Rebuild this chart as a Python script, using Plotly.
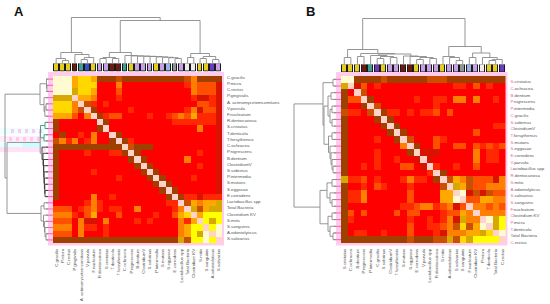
import plotly.graph_objects as go

W, H = 550, 304
FONT = "Liberation Sans"

labels_a = ["C.gracilis","P.micra","C.rectus","P.gingivalis","A. actinomycetemcomitans","V.parvula","F.nucleatum",
            "R.dentocariosa","S.cristatus","T.denticola","T.forsythensis","C.ochracea","P.nigrescens","B.dentium",
            "ClostridiumV","S.sobrinus","P.intermedia","S.mutans","S.eggasae","E.corrodens","Lactobacillus spp",
            "Total Bacteria","Clostridium KV","S.mitis","S.sanguinis","A.odontolyticus","S.salivarius"]
labels_b = ["S.cristatus","C.ochracea","B.dentium","P.nigrescens","P.intermedia","C.gracilis","S.sobrinus",
            "ClostridiumV","T.forsythensis","S.mutans","S.eggasae","E.corrodens","V.parvula","Lactobacillus spp",
            "R.dentocariosa","S.mitis","A.odontolyticus","S.salivarius","S.sanguinis","F.nucleatum","Clostridium KV",
            "P.micra","T.denticola","Total Bacteria","C.rectus"]

# correlation class per cell: 0 brown, 1 red ... 9 pale, 10 diagonal, 11 dark red, 12 burnt orange
matrix_a = [
 [9,9,9,5,7,7,5,0,0,0,12,0,0,0,0,0,0,0,0,0,0,12,4,0,0,0,0],
 [9,9,9,5,7,7,7,1,1,1,4,1,1,1,1,1,1,1,1,1,1,2,4,3,3,3,11],
 [9,9,9,6,7,7,5,1,1,1,3,1,1,1,1,1,1,1,1,1,1,1,4,3,3,3,11],
 [6,6,6,10,5,5,4,1,1,1,2,1,1,1,1,1,1,1,1,1,1,1,2,11,11,2,11],
 [7,7,7,4,10,12,2,1,2,1,1,1,1,1,1,1,1,1,1,1,1,1,1,3,3,2,11],
 [7,7,7,4,12,10,0,1,1,1,1,1,2,1,1,1,1,1,1,1,1,2,4,11,3,3,11],
 [5,5,5,3,1,4,10,0,2,3,3,1,1,1,1,2,1,1,2,3,4,3,5,2,2,2,11],
 [0,1,1,1,1,1,1,10,0,1,1,1,1,1,1,1,1,1,1,2,2,2,2,2,2,2,11],
 [0,1,1,1,1,1,1,0,10,1,1,1,1,1,1,1,1,1,1,1,1,1,1,4,1,1,11],
 [1,0,1,1,2,1,4,1,1,10,0,1,1,1,1,1,1,1,1,1,1,1,1,1,1,1,11],
 [12,4,2,4,1,2,4,1,1,0,10,0,2,1,1,1,1,1,1,1,1,1,1,1,1,1,11],
 [0,0,0,0,0,0,0,0,0,0,0,10,12,0,0,0,1,1,1,1,1,1,1,1,1,1,11],
 [0,1,1,1,1,2,1,1,1,2,2,0,10,0,1,1,1,1,1,1,1,1,1,2,1,1,11],
 [0,1,1,1,1,1,1,1,1,1,1,1,0,10,0,1,1,1,1,1,1,4,1,1,1,1,11],
 [0,1,1,1,1,1,1,1,1,1,1,1,1,0,10,0,1,1,1,1,1,1,1,2,1,1,11],
 [0,1,1,1,1,1,2,1,1,1,1,1,1,1,0,10,0,1,1,1,1,1,1,1,1,1,11],
 [0,1,1,1,1,1,1,1,1,1,2,1,1,1,1,0,10,0,1,1,1,1,2,1,1,1,11],
 [0,1,1,1,1,1,1,1,1,1,1,1,1,1,1,1,0,10,0,1,1,1,1,1,1,1,11],
 [0,1,1,1,1,1,1,1,1,1,1,1,1,1,1,1,1,0,10,0,1,1,1,1,1,1,11],
 [0,1,1,1,1,1,4,1,1,2,1,1,1,1,1,1,1,1,0,10,0,2,2,11,2,2,2],
 [1,1,1,1,1,2,4,2,1,1,1,1,1,1,1,1,1,1,2,2,10,12,5,4,5,5,6],
 [3,3,3,1,2,3,4,2,1,2,2,1,1,4,1,1,1,1,1,2,4,10,6,12,5,6,6],
 [4,4,4,2,1,3,5,1,1,1,3,1,1,1,1,1,2,1,1,3,5,7,10,5,8,8,8],
 [3,3,3,1,4,11,11,1,4,1,1,1,1,2,1,2,1,1,1,1,4,2,5,10,8,6,8],
 [4,4,4,1,4,2,2,1,2,1,1,1,1,1,1,1,1,1,1,1,4,5,8,8,10,8,9],
 [3,3,3,1,4,1,1,1,2,1,1,1,1,1,1,1,1,1,1,1,4,5,8,6,9,10,9],
 [0,0,0,0,0,0,0,0,0,0,0,0,0,0,0,0,0,0,0,0,6,12,8,8,9,8,10],
]
matrix_b = [
 [9,9,0,0,0,0,12,0,0,0,0,0,0,12,12,12,0,0,0,0,0,0,0,0,0],
 [6,10,11,3,1,2,1,1,1,1,1,1,1,1,1,1,1,2,2,1,3,1,2,1,1],
 [0,1,10,12,1,1,1,1,1,1,1,1,1,1,1,1,1,1,1,1,1,1,1,1,1],
 [0,3,3,10,0,1,1,1,1,1,1,2,1,1,2,2,1,4,4,1,4,1,1,2,1],
 [0,1,1,0,10,12,1,1,1,1,1,1,1,1,2,1,1,1,1,1,1,1,1,1,1],
 [12,2,2,1,12,10,0,2,2,1,2,1,2,2,3,1,3,1,1,1,1,1,1,1,1],
 [0,1,1,1,1,0,10,0,1,1,1,1,1,1,1,1,1,1,1,1,1,1,1,1,1],
 [0,1,1,1,1,1,0,10,0,1,1,1,1,1,1,1,1,1,1,1,1,1,1,2,2],
 [0,1,1,1,1,1,1,0,10,0,1,1,1,1,1,1,1,1,1,1,3,1,1,1,1],
 [0,1,1,1,1,2,1,1,0,10,12,1,1,1,3,2,1,1,1,1,1,1,1,1,1],
 [0,1,1,1,1,1,1,1,1,4,10,0,1,1,3,1,1,3,3,1,3,2,3,2,3],
 [0,1,1,1,1,2,1,1,1,1,0,10,11,11,11,1,1,1,1,1,4,1,2,2,1],
 [0,1,1,1,1,2,1,1,2,1,1,11,10,11,1,1,1,1,1,1,4,1,2,2,1],
 [0,1,1,2,1,2,1,1,1,3,3,1,11,10,2,1,1,2,1,1,3,1,1,1,1],
 [0,1,1,1,1,1,1,1,1,1,1,1,1,2,10,0,1,1,1,1,1,1,1,1,1],
 [6,2,2,3,1,2,1,1,1,2,4,2,2,1,0,10,12,5,4,12,3,3,3,11,4],
 [0,1,1,2,1,3,2,1,1,1,2,1,1,1,1,12,10,6,5,12,3,3,4,4,4],
 [0,2,2,4,1,1,1,1,1,1,3,1,1,1,1,5,5,10,9,11,12,11,12,3,3],
 [0,2,2,4,1,1,1,1,1,1,3,1,1,1,1,5,5,9,10,3,3,5,5,4,4],
 [0,1,1,1,1,1,1,1,1,2,2,3,4,4,2,3,4,11,3,10,4,4,3,4,3],
 [0,3,1,3,1,1,1,1,3,1,3,3,1,1,1,2,3,3,5,4,10,4,4,4,4],
 [0,2,1,1,1,1,1,1,1,1,2,1,1,2,1,2,4,11,6,4,4,10,9,6,8],
 [0,1,1,1,1,1,1,1,1,1,3,1,1,2,2,3,4,12,7,12,5,9,10,6,8],
 [0,1,2,2,1,1,2,1,1,1,3,1,1,1,2,11,4,4,4,5,5,6,7,10,9],
 [0,0,0,0,0,0,0,0,0,0,12,0,0,0,12,12,6,12,7,6,8,8,8,8,10],
]

tiles_a = ["Y","Y","Y","D","T","B","Y","L","L","D","D","T","Y","L","L","L","Y","L","S","G","L","W","W","Y","Y","K","L"]
tiles_b = ["Y","Y","Y","D","T","K","Y","L","L","D","D","Y","L","L","L","Y","L","L","G","S","L","W","Y","Y","K"]

# dendrograms: (merge height, left, right); integers are leaves
top_a = (46,
  (11, (5, 0, (3, 1, 2)), (9, 3, (6, (4, 4, 5), 6))),
  (43,
    (11, (6, (5, 7, 8), (5, 9, 10)),
         (8, 11, (7.6, 12, (7.4, 13, (7.2, 14, (7, 15, (6.6, 16, (6.2, 17, (5.8, 18, (5, 19, 20))))))))) ),
    (10, (6, 21, 22), (7, (5, 23, 24), (4, 25, 26)))))
left_a_upper = (8, (1.5, 0, (1, 1, 2)), (4, 3, (3.2, (2, 4, 5), 6)))
left_a_teal = (7.5, (3, 7, 8), (4, 9, 10))
left_a_ladder = (6, 11, (5, 12, (4.5, 13, (4.2, 14, (4, 15, (3.6, 16, (3.2, 17, (3, 18, 19))))))))
left_a_lower = (7, (4, 20, 21), (4.5, 22, (3.5, 23, (3, 24, (2, 25, 26)))))
top_b = (46,
  (15, (7, 0, 1),
       (11, (8, 2, 3),
            (10.5, (9, 4, (8, (6, 5, 6), (7, 7, 8))),
                   (8.5, 9, (8, 10, (7, (5, 11, 12), (6, 13, 14))))))),
  (18, (8, 15, (7, 16, (4, 17, 18))),
       (11.5, (7, 19, 20), (7, 21, (5, (4, 22, 23), 24)))))
left_b_tree = (42,
  (13, (3, 0, 1),
       (12, (8, (5, 2, 3), (6, (4, 4, 5), (4, 6, 7))),
            (7.5, (4, 8, 9), (6, 10, (5, 11, (4, 12, (3, 13, 14))))))),
  (16, (9, (4, 15, 16), (6, 17, (4, 18, 19))),
       (8, (4, 20, 21), (6, 22, (3, 23, 24)))))
tile_colors = dict(Y="#E6CE1E", D="#6E1C10", T="#3F9F90", B="#3A50C0", L="#C8A0E8",
                   K="#6C3CC0", W="#F2ECEC", G="#8E9696", S="#96B4E4")
level_colors = ["#A04000","#FF0000","#FF2800","#FF5000","#FF8000","#FFA800","#D6A800",
                "#FFD800","#FFFF00","#FFFBD0","#FFD2CC","#D81400","#C85000"]

def dx(a, b): return [a / W, b / W]
def dy(top, bottom): return [1 - bottom / H, 1 - top / H]

def segments(node):
    """Return (position, height, xs, hs) for a merge tree."""
    if isinstance(node, int):
        return node, 0, [], []
    h, l, r = node
    pl, hl, xl, yl = segments(l)
    pr, hr, xr, yr = segments(r)
    xs = xl + xr + [pl, pl, pr, pr, None]
    hs = yl + yr + [hl, h, h, hr, None]
    return (pl + pr) / 2, h, xs, hs

fig = go.Figure()
layout = {}
colorscale = []
n_lev = len(level_colors)
for i, c in enumerate(level_colors):
    colorscale += [[i / n_lev, c], [(i + 1) / n_lev, c]]

def ax(i): return "" if i == 1 else str(i)

def panel(base, labels, matrix, tiles, xs, ys, bars_y, lab_dom, left_px, strip_l, pink_labels):
    n = len(labels)
    xh, yh, xb, yb, xt, yt, xl, yl, yy = (base, base, base + 1, base + 1, base + 2,
                                           base + 2, base + 3, base + 3, base + 4)
    rng = [-0.5, n - 0.5]
    hide = dict(visible=False, showgrid=False, zeroline=False)
    # heatmap
    fig.add_trace(go.Heatmap(z=matrix, x=list(range(n)), y=list(range(n)), colorscale=colorscale,
                             zmin=-0.5, zmax=n_lev - 0.5, showscale=False, hoverinfo="skip",
                             xaxis="x" + ax(xh), yaxis="y" + ax(yh)))
    font = dict(family=FONT, size=4.4, color="#555555")
    layout["xaxis" + ax(xh)] = dict(domain=dx(*xs), range=rng, tickmode="array", tickvals=list(range(n)),
                                    ticktext=labels, tickangle=-90, tickfont=font, ticks="outside", ticklen=3,
                                    tickcolor="rgba(0,0,0,0)", showgrid=False, zeroline=False, showline=False,
                                    anchor="y" + ax(yh))
    layout["yaxis" + ax(yh)] = dict(domain=dy(*ys), range=[n - 0.5, -0.5], showticklabels=False, ticks="",
                                    showgrid=False, zeroline=False, anchor="x" + ax(xh))
    # right-hand labels on their own axis
    texts = labels
    if pink_labels:
        texts = ['<span style="color:#F0609A">%s</span>%s' % (t[0], t[1:]) for t in labels]
    fig.add_trace(go.Scatter(x=[0] * n, y=list(range(n)), mode="markers", marker=dict(opacity=0, size=1),
                             hoverinfo="skip", xaxis="x" + ax(xh), yaxis="y" + ax(yy)))
    layout["yaxis" + ax(yy)] = dict(domain=dy(*lab_dom), range=[n - 0.5, -0.5], side="right", tickmode="array",
                                    tickvals=list(range(n)), ticktext=texts, tickfont=font, ticks="outside",
                                    ticklen=3, tickcolor="rgba(0,0,0,0)", showgrid=False, zeroline=False,
                                    anchor="x" + ax(xh))
    # coloured tiles
    fig.add_trace(go.Bar(x=list(range(n)), y=[1] * n, width=0.76, hoverinfo="skip",
                         marker=dict(color=[tile_colors[t] for t in tiles], line=dict(color="#1A1A1A", width=1)),
                         xaxis="x" + ax(xb), yaxis="y" + ax(yb)))
    layout["xaxis" + ax(xb)] = dict(domain=dx(*xs), range=rng, anchor="y" + ax(yb), **hide)
    layout["yaxis" + ax(yb)] = dict(domain=dy(*bars_y), range=[0, 1], anchor="x" + ax(xb), **hide)
    layout["xaxis" + ax(xt)] = dict(domain=dx(*xs), range=rng, anchor="y" + ax(yt), **hide)
    layout["yaxis" + ax(yt)] = dict(domain=dy(bars_y[0] - 48, bars_y[0]), range=[0, 48], anchor="x" + ax(xt), **hide)
    layout["xaxis" + ax(xl)] = dict(domain=dx(left_px[0], xs[0]), range=[left_px[1], strip_l], anchor="y" + ax(yl), **hide)
    layout["yaxis" + ax(yl)] = dict(domain=dy(*ys), range=[n - 0.5, -0.5], anchor="x" + ax(xl), **hide)
    # pink leaf marks
    fig.add_trace(go.Scatter(x=[-1.5] * n, y=list(range(n)), mode="markers", hoverinfo="skip",
                             marker=dict(symbol="line-ew", size=5, line=dict(color="#F060B0", width=1)),
                             xaxis="x" + ax(xl), yaxis="y" + ax(yl)))
    return dict(xt=xt, yt=yt, xl=xl, yl=yl)

def draw_top(tree, a):
    _, _, xs_, hs_ = segments(tree)
    fig.add_trace(go.Scatter(x=xs_, y=hs_, mode="lines", line=dict(color="#8A8A8A", width=0.9), hoverinfo="skip",
                             xaxis="x" + ax(a["xt"]), yaxis="y" + ax(a["yt"])))

def draw_left(tree, a, color="#8A8A8A", width=0.9):
    _, _, xs_, hs_ = segments(tree)
    fig.add_trace(go.Scatter(x=hs_, y=xs_, mode="lines", line=dict(color=color, width=width), hoverinfo="skip",
                             xaxis="x" + ax(a["xl"]), yaxis="y" + ax(a["yl"])))

pa = panel(1, labels_a, matrix_a, tiles_a, (53, 222), (76, 243), (63.5, 71.5), (74, 242), (0, 48), -5, False)
pb = panel(6, labels_b, matrix_b, tiles_b, (341, 505.5), (76, 243), (64.5, 72), (78.5, 246), (288, 48), -5, True)

draw_top(top_a, pa)
draw_top(top_b, pb)

# panel A side tree: four groups joined into two high merges
pu, hu, xu, yu = segments(left_a_upper)
pt, ht, xt_, yt_ = segments(left_a_teal)
pl, hl, xl_, yl_ = segments(left_a_ladder)
pw, hw, xw, yw = segments(left_a_lower)
draw_left(left_a_upper, pa)
draw_left(left_a_lower, pa)
draw_left(left_a_teal, pa, "#2F9A78")
draw_left(left_a_ladder, pa, "#333333")
pm = (pt + pl) / 2
mid_h, second_h, root_h = 7.8, 41, 43
pj = (pm + pw) / 2
fig.add_trace(go.Scatter(x=[ht, mid_h, mid_h, hl, None, mid_h, second_h, second_h, hw, None, hu, root_h, root_h, second_h],
                         y=[pt, pt, pl, pl, None, pm, pm, pw, pw, None, pu, pu, pj, pj],
                         mode="lines", line=dict(color="#8A8A8A", width=0.9), hoverinfo="skip",
                         xaxis="x" + ax(pa["xl"]), yaxis="y" + ax(pa["yl"])))
draw_left(left_b_tree, pb)

def rect(x0, x1, y0, y1, color, layer="below"):
    return dict(type="rect", xref="paper", yref="paper", x0=x0 / W, x1=x1 / W, y0=1 - y0 / H, y1=1 - y1 / H,
                fillcolor=color, line=dict(width=0), layer=layer)

shapes = []
PINK = "#FFCCEE"
for x0, x1 in ((53, 222), (341, 505.5)):
    shapes += [rect(x0 - 5, x1 + 2, 72, 245.5, PINK)]
# pale scan artefacts left of panel A
shapes += [rect(0, 44, 128, 134, "#EEFFFF"), rect(0, 44, 136, 142, "#FFEEFA"),
           rect(22, 42, 143, 147, "#C8FFFF"), rect(0, 22, 143, 147, "#E6FFFF"), rect(0, 46, 147, 152, "#FFE2F8")]
for x_c in (11, 18, 25, 32, 39):
    shapes += [rect(x_c, x_c + 3, 129, 133, "#FFC8F2"), rect(x_c - 2, x_c + 1, 137, 141, "#FFC8F2")]
layout["shapes"] = shapes

annotations = [dict(text="<b>%s</b>" % t, x=x / W, y=1 - 11.5 / H, xref="paper", yref="paper", showarrow=False,
                    xanchor="center", yanchor="middle", font=dict(family=FONT, size=13, color="#111111"))
               for t, x in (("A", 18.5), ("B", 310))]
layout["annotations"] = annotations

fig.update_layout(width=W, height=H, margin=dict(l=0, r=0, t=0, b=0), paper_bgcolor="white", plot_bgcolor="rgba(0,0,0,0)",
                  showlegend=False, bargap=0, **layout)
fig.write_html("out.html", config=dict(displayModeBar=False),
               post_script="document.body.style.margin='0';document.body.style.overflow='hidden';")
